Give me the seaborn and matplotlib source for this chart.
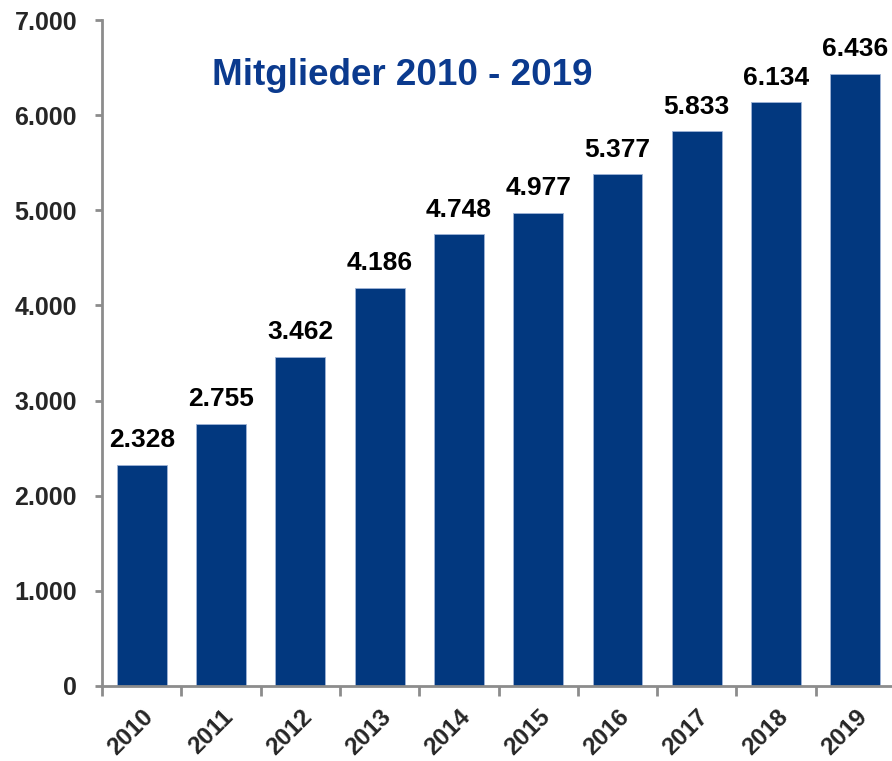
import numpy as np
import pandas as pd
import seaborn as sns
import matplotlib.pyplot as plt
from matplotlib.ticker import FixedLocator, FuncFormatter

# Daten
jahre = ['2010', '2011', '2012', '2013', '2014', '2015', '2016', '2017', '2018', '2019']
mitglieder = [2328, 2755, 3462, 4186, 4748, 4977, 5377, 5833, 6134, 6436]
y_ticks = [0, 1000, 2000, 3000, 4000, 5000, 6000, 7000]

df = pd.DataFrame({'Jahr': jahre, 'Mitglieder': mitglieder})

def de_format(v):
    return f'{int(v):,}'.replace(',', '.')

sns.set_style('white')
plt.rcParams['font.family'] = ['Liberation Sans', 'DejaVu Sans']

balken_farbe = '#02387f'
achsen_farbe = '#8c8c8c'

fig = plt.figure(figsize=(8.92, 7.61), dpi=100)
ax = fig.add_axes([0.1144, 0.0986, 0.889, 0.875])

sns.barplot(data=df, x='Jahr', y='Mitglieder', color=balken_farbe, width=0.63,
            edgecolor='#9fb4d6', linewidth=0.6, saturation=1, ax=ax)

ax.set_ylim(0, 7000)
ax.set_xlim(-0.5, len(jahre) - 0.5)
ax.set_yticks(y_ticks)
ax.yaxis.set_major_formatter(FuncFormatter(lambda v, p: de_format(v)))

# Werte über den Balken
for i, v in enumerate(mitglieder):
    ax.annotate(de_format(v), (i, v), xytext=(0, 9), textcoords='offset points',
                ha='center', va='bottom', fontsize=19, fontweight='bold', color='black')

# Achsen
sns.despine(ax=ax)
for s in ['left', 'bottom']:
    ax.spines[s].set_color(achsen_farbe)
    ax.spines[s].set_linewidth(2)
    ax.spines[s].set_clip_on(False)

ax.tick_params(axis='y', which='major', direction='out', length=5, width=2,
               color=achsen_farbe, pad=13, labelsize=18, left=True)
ax.tick_params(axis='x', which='major', length=0, pad=14, labelsize=17.5)
ax.xaxis.set_minor_locator(FixedLocator(np.arange(-0.5, len(jahre), 1.0)))
ax.tick_params(axis='x', which='minor', direction='out', length=7, width=2,
               color=achsen_farbe, bottom=True)

for lbl in ax.get_yticklabels():
    lbl.set_fontweight('bold')
for lbl in ax.get_xticklabels():
    lbl.set_fontweight('bold')
    lbl.set_rotation(45)
    lbl.set_ha('right')
    lbl.set_va('top')
    lbl.set_rotation_mode('anchor')

ax.set_xlabel('')
ax.set_ylabel('')

ax.text(0.378, 0.917, 'Mitglieder 2010 - 2019', transform=ax.transAxes,
        ha='center', va='center', fontsize=26.5, fontweight='bold', color='#0b3a8e')

fig.savefig('out.png', dpi=100)
